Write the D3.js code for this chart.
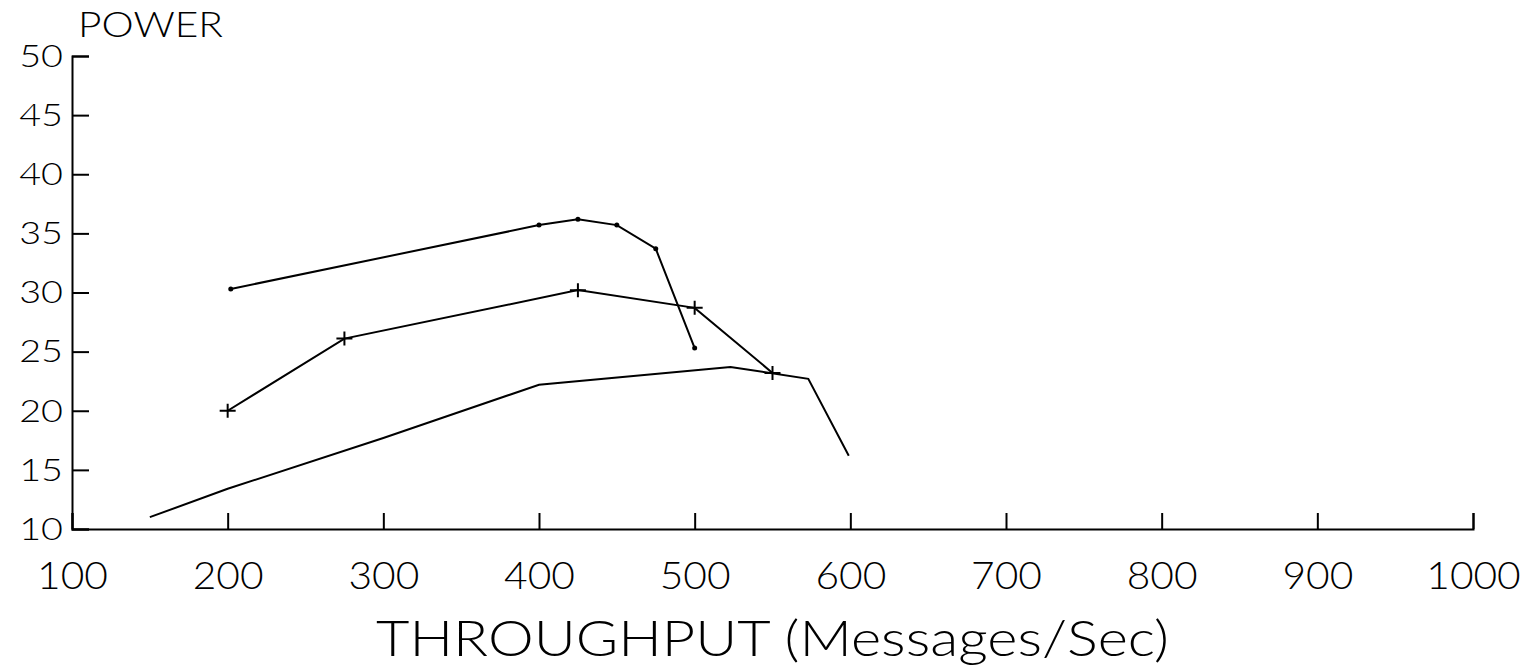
<!DOCTYPE html>
<html>
<head>
<meta charset="utf-8">
<script src="https://cdn.jsdelivr.net/npm/d3@7"></script>
<style>
  body { margin: 0; background: #fff; }
  text { font-family: Lato, "Liberation Sans", sans-serif; font-weight: 300; fill: #000; }
</style>
</head>
<body>
<div id="chart"></div>
<script>
var width = 1528;
var height = 668;

// dotted series
var dot_x = [202, 400, 425, 450, 475, 500];
var dot_y = [30.3, 35.7, 36.2, 35.7, 33.7, 25.3];
// plus series
var plus_x = [200, 275, 425, 500, 550];
var plus_y = [20, 26.1, 30.2, 28.7, 23.2];
// plain series
var plain_x = [150, 200, 300, 400, 523, 573, 599];
var plain_y = [11, 13.4, 17.7, 22.2, 23.7, 22.7, 16.2];

var x_ticks = [100, 200, 300, 400, 500, 600, 700, 800, 900, 1000];
var y_ticks = [10, 15, 20, 25, 30, 35, 40, 45, 50];

var x_title = "THROUGHPUT (Messages/Sec)";
var y_title = "POWER";

var svg = d3.select("#chart").append("svg")
    .attr("width", width)
    .attr("height", height);

var x = d3.scaleLinear().domain([100, 1000]).range([72, 1473]);
var y = d3.scaleLinear().domain([10, 50]).range([529, 56]);

function zip(xs, ys) {
  return xs.map(function(d, i) { return [d, ys[i]]; });
}

// stretch glyphs sideways, the plotter font is wide
function widen(sel, factor) {
  sel.each(function() {
    var w = this.getComputedTextLength();
    d3.select(this)
      .attr("textLength", w * factor)
      .attr("lengthAdjust", "spacingAndGlyphs");
  });
}

var xAxis = svg.append("g")
    .attr("transform", "translate(0," + y(10) + ")")
    .call(d3.axisBottom(x).tickValues(x_ticks).tickFormat(d3.format("d"))
      .tickSize(-16).tickPadding(34));

var yAxis = svg.append("g")
    .attr("transform", "translate(" + x(100) + ",0)")
    .call(d3.axisLeft(y).tickValues(y_ticks).tickFormat(d3.format("d"))
      .tickSize(-17).tickPadding(9));

svg.selectAll(".domain, .tick line")
    .attr("stroke", "#000")
    .attr("stroke-width", 2);

xAxis.selectAll("text")
    .style("font-size", "37px")
    .call(widen, 1.1);

yAxis.selectAll("text")
    .style("font-size", "32px")
    .call(widen, 1.18);

svg.append("text")
    .attr("x", 78)
    .attr("y", 37)
    .style("font-size", "35px")
    .attr("textLength", 145)
    .attr("lengthAdjust", "spacingAndGlyphs")
    .text(y_title);

svg.append("text")
    .attr("x", (x(100) + x(1000)) / 2)
    .attr("y", 656)
    .attr("text-anchor", "middle")
    .style("font-size", "50px")
    .attr("textLength", 793)
    .attr("lengthAdjust", "spacingAndGlyphs")
    .text(x_title);

var line = d3.line()
    .x(function(d) { return x(d[0]); })
    .y(function(d) { return y(d[1]); });

var series = [zip(dot_x, dot_y), zip(plus_x, plus_y), zip(plain_x, plain_y)];

svg.selectAll(".series")
  .data(series)
  .enter().append("path")
    .attr("class", "series")
    .attr("d", line)
    .attr("fill", "none")
    .attr("stroke", "#000")
    .attr("stroke-width", 2);

svg.selectAll(".dot")
  .data(series[0])
  .enter().append("circle")
    .attr("class", "dot")
    .attr("cx", function(d) { return x(d[0]); })
    .attr("cy", function(d) { return y(d[1]); })
    .attr("r", 2.5)
    .attr("fill", "#000");

svg.selectAll(".plus")
  .data(series[1])
  .enter().append("path")
    .attr("class", "plus")
    .attr("d", function(d) {
      var cx = x(d[0]), cy = y(d[1]);
      return "M" + (cx - 8) + "," + cy + "H" + (cx + 8) + "M" + cx + "," + (cy - 7) + "V" + (cy + 7);
    })
    .attr("stroke", "#000")
    .attr("stroke-width", 2);
</script>
</body>
</html>
